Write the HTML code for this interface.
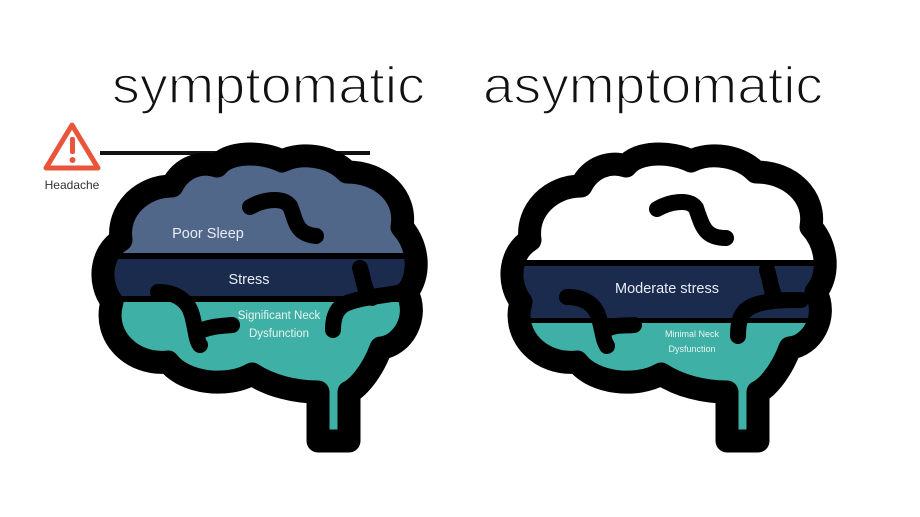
<!DOCTYPE html>
<html><head><meta charset="utf-8"><style>
html,body{margin:0;padding:0;background:#fff;}
svg{display:block;}
</style></head><body>
<svg width="920" height="517" viewBox="0 0 920 517" xmlns="http://www.w3.org/2000/svg">
<defs>
<path id="brain" d="M318 441 L318 392 C295 392 270 386 252 374 C228 388 185 384 168 362 C132 366 102 336 112 302 C97 282 101 252 121 240 C117 210 142 186 172 186 C182 166 202 161 217 166 C228 151 262 151 282 161 C302 151 332 156 347 172 C382 172 407 197 402 227 C420 247 420 277 407 292 C420 318 402 346 381 348 C371 375 355 390 349 392 L349 441 Z"/>
<clipPath id="c"><use href="#brain"/></clipPath>
</defs>

<text x="112" y="103" font-family="Liberation Sans, sans-serif" font-size="52" textLength="313" lengthAdjust="spacingAndGlyphs" fill="#111" stroke="#fff" stroke-width="1.6">symptomatic</text>
<text x="483" y="103" font-family="Liberation Sans, sans-serif" font-size="52" textLength="340" lengthAdjust="spacingAndGlyphs" fill="#111" stroke="#fff" stroke-width="1.6">asymptomatic</text>

<!-- headache -->
<path d="M72 125 L98 168 L46 168 Z" fill="none" stroke="#e8553a" stroke-width="5" stroke-linejoin="round"/>
<rect x="70" y="137" width="5" height="17" rx="2" fill="#e8553a"/>
<circle cx="72.5" cy="160" r="3" fill="#e8553a"/>
<text x="72" y="189" font-family="Liberation Sans, sans-serif" font-size="12" text-anchor="middle" fill="#333">Headache</text>
<rect x="100" y="151" width="270" height="4" fill="#111"/>

<!-- left brain -->
<g>
<g clip-path="url(#c)">
<rect x="80" y="140" width="350" height="114" fill="#50678a"/>
<rect x="80" y="259" width="350" height="37" fill="#1a2b4d"/>
<rect x="80" y="302" width="350" height="160" fill="#3fb0a5"/>
<rect x="80" y="253" width="350" height="6" fill="#000"/>
<rect x="80" y="296" width="350" height="6" fill="#000"/>
</g>
<use href="#brain" fill="none" stroke="#000" stroke-width="23" stroke-linejoin="round"/>
<g fill="none" stroke="#000" stroke-width="16" stroke-linecap="round">
<path d="M250 207 C262 200 282 196 290 206 C296 220 295 234 316 236"/>
<path d="M360 268 C364 280 364 292 372 298"/>
<path d="M158 292 C175 292 188 300 192 315 C196 330 196 340 200 345"/>
<path d="M198 332 C210 326 222 326 232 325"/>
<path d="M333 330 C333 318 336 306 350 302 C368 296 385 296 402 292"/>
</g>
<text x="208" y="238" font-family="Liberation Sans, sans-serif" font-size="14.5" text-anchor="middle" fill="#e8ecf4">Poor Sleep</text>
<text x="249" y="284" font-family="Liberation Sans, sans-serif" font-size="14.5" text-anchor="middle" fill="#e8ecf4">Stress</text>
<text x="279" y="319" font-family="Liberation Sans, sans-serif" font-size="11.5" text-anchor="middle" fill="#e8f4f2">Significant Neck</text>
<text x="279" y="337" font-family="Liberation Sans, sans-serif" font-size="11.5" text-anchor="middle" fill="#e8f4f2">Dysfunction</text>
</g>

<!-- right brain -->
<g transform="translate(409,0)">
<g clip-path="url(#c)">
<rect x="80" y="140" width="350" height="121" fill="#fff"/>
<rect x="80" y="266" width="350" height="52" fill="#1a2b4d"/>
<rect x="80" y="323" width="350" height="140" fill="#3fb0a5"/>
<rect x="80" y="260" width="350" height="6" fill="#000"/>
<rect x="80" y="318" width="350" height="5" fill="#000"/>
</g>
<use href="#brain" fill="none" stroke="#000" stroke-width="23" stroke-linejoin="round"/>
<g fill="none" stroke="#000" stroke-width="16" stroke-linecap="round">
<path d="M248 209 C260 202 280 198 287 208 C293 225 295 238 317 238"/>
<path d="M358 270 C362 282 362 294 368 300"/>
<path d="M158 297 C175 297 186 304 190 318 C194 332 194 340 198 346"/>
<path d="M196 330 C206 324 216 326 225 325"/>
<path d="M329 336 C329 322 331 310 346 305 C360 300 375 300 392 300"/>
</g>
<text x="258" y="293" font-family="Liberation Sans, sans-serif" font-size="14.5" text-anchor="middle" fill="#e8ecf4">Moderate stress</text>
<text x="283" y="337" font-family="Liberation Sans, sans-serif" font-size="9" text-anchor="middle" fill="#e8f4f2">Minimal Neck</text>
<text x="283" y="352" font-family="Liberation Sans, sans-serif" font-size="9" text-anchor="middle" fill="#e8f4f2">Dysfunction</text>
</g>
</svg>
</body></html>
